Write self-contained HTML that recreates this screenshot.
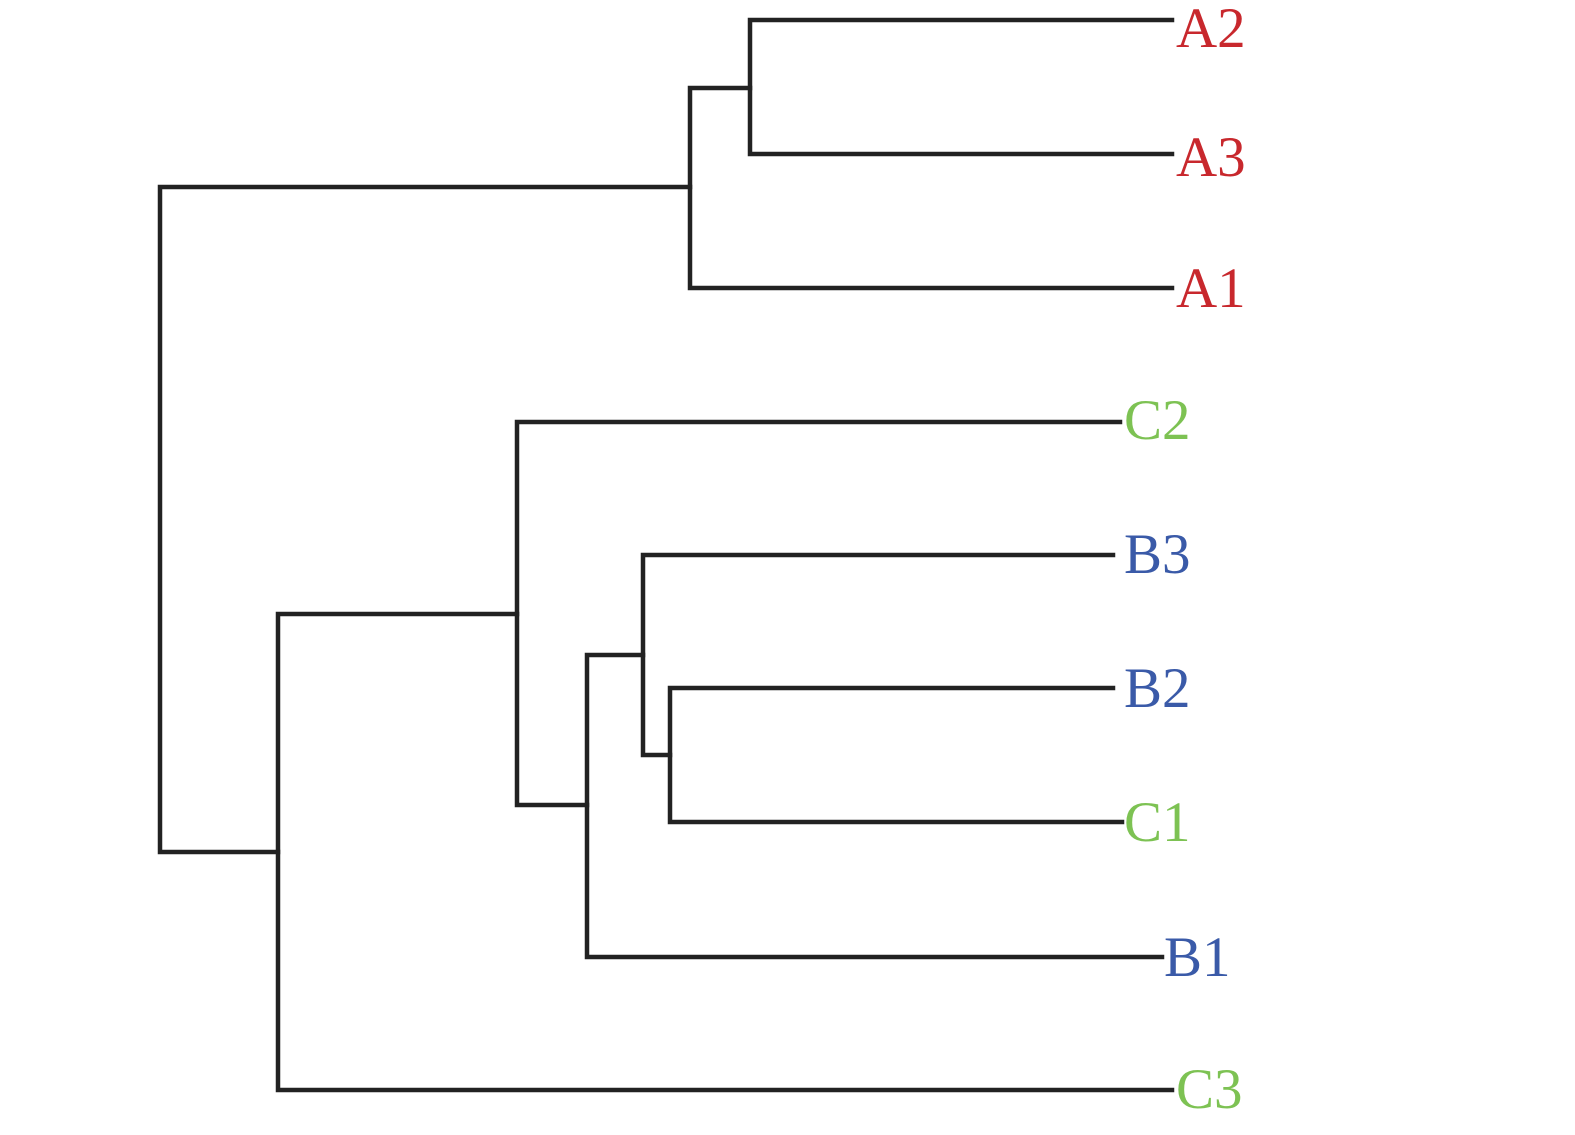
<!DOCTYPE html>
<html><head><style>
html,body{margin:0;padding:0;background:#fff;}
</style></head><body>
<svg width="1575" height="1130" xmlns="http://www.w3.org/2000/svg">
<g stroke="#222" stroke-width="4.5" fill="none" stroke-linecap="square">
<path d="M1172 20H750V154H1172"/>
<path d="M750 88H690V288H1172"/>
<path d="M690 187H160V852H278"/>
<path d="M517 614H278V1090H1172"/>
<path d="M1120 422H517V805H587"/>
<path d="M643 655H587V957H1162"/>
<path d="M1113 555H643V755H670"/>
<path d="M1113 688H670V822H1122"/>
</g>
<g font-family="Liberation Serif, serif" font-size="57">
<text x="1176" y="47" fill="#c8282d">A2</text>
<text x="1176" y="176" fill="#c8282d">A3</text>
<text x="1176" y="307" fill="#c8282d">A1</text>
<text x="1124" y="439" fill="#7dc253">C2</text>
<text x="1124" y="573" fill="#3a5aa8">B3</text>
<text x="1124" y="707" fill="#3a5aa8">B2</text>
<text x="1124" y="841" fill="#7dc253">C1</text>
<text x="1164" y="976" fill="#3a5aa8">B1</text>
<text x="1176" y="1108" fill="#7dc253">C3</text>
</g>
</svg>
</body></html>
